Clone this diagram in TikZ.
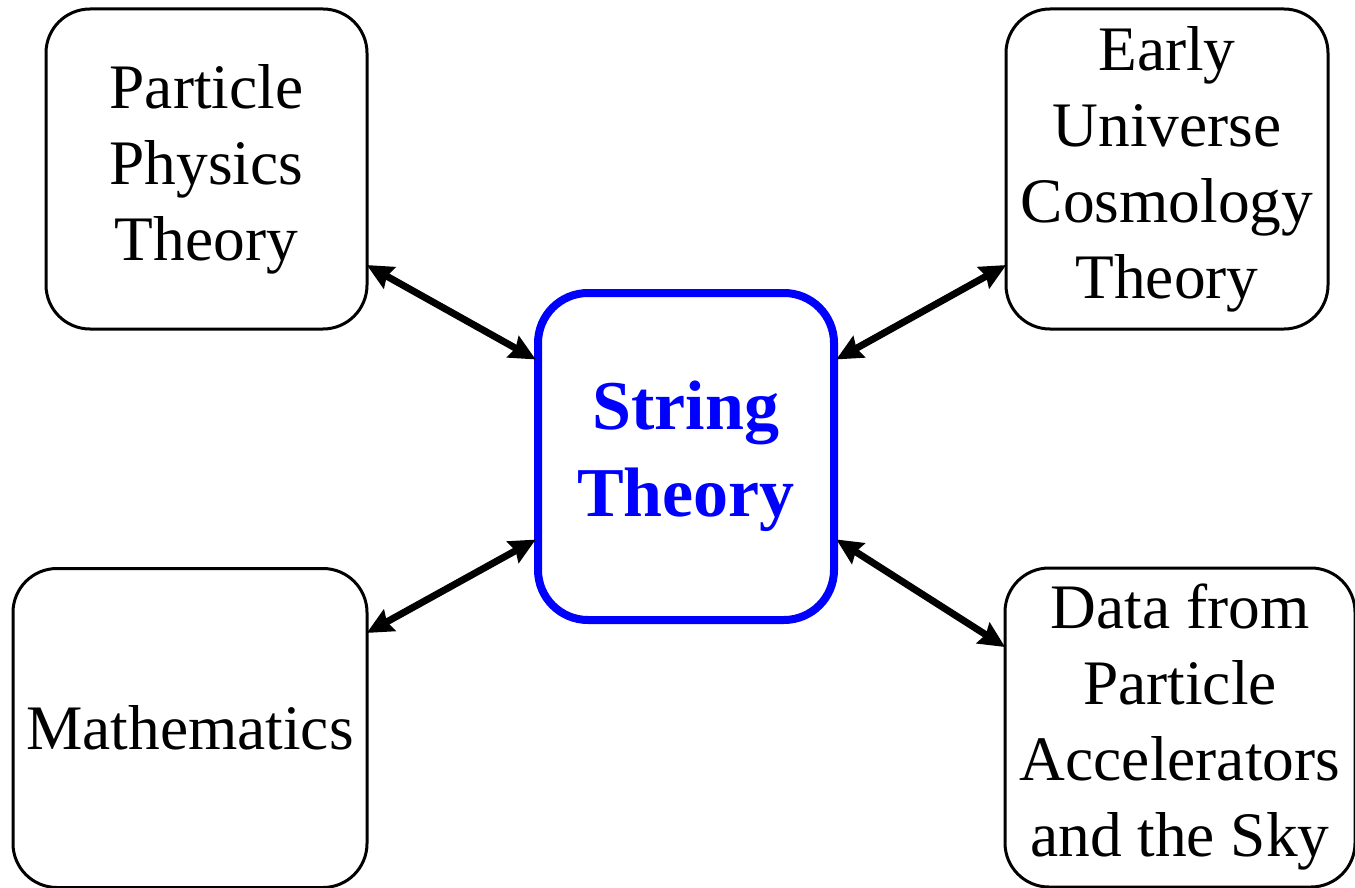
\documentclass[tikz,border=0pt]{standalone}
\usepackage{fontspec}
\setmainfont{Liberation Serif}
\definecolor{strblue}{RGB}{0,0,255}
\usetikzlibrary{arrows.meta}

\tikzset{
  field/.style={draw, line width=1.5pt, rounded corners=22pt, inner sep=0pt,
    align=center, font=\fontsize{31.7pt}{38pt}\selectfont},
  core/.style={draw=strblue, text=strblue, line width=4pt, rounded corners=25pt,
    inner sep=0pt, align=center, minimum width=148pt, minimum height=163.5pt,
    font=\bfseries\fontsize{35pt}{43.5pt}\selectfont},
  link/.style={{Stealth[length=13pt,width=12pt,inset=1.5pt]}-{Stealth[length=13pt,width=12pt,inset=1.5pt]},
    line width=3.5pt, shorten <=-1pt, shorten >=-1pt}
}

\begin{document}
\begin{tikzpicture}[x=0.5pt,y=-0.5pt]
  \useasboundingbox (0,0) rectangle (1355,888);
  %% Centre box
  \node[core] (string) at (686,456.5) {String\\Theory};
  %% Surrounding fields
  \node[field, minimum width=160.5pt, minimum height=160pt] (particle) at (206.5,169) {Particle\\Physics\\Theory};
  \node[field, minimum width=161pt, minimum height=160pt] (cosmo) at (1167,169) {Early\\Universe\\Cosmology\\Theory};
  \node[field, minimum width=177pt, minimum height=159.5pt] (math) at (190,728) {Mathematics};
  \node[field, minimum width=175pt, minimum height=159.5pt] (data) at (1180,727.5) {Data from\\Particle\\Accelerators\\and the Sky};
  %% Two-way links
  \draw[link] ([yshift=-48.5pt]particle.east) -- ([yshift=49pt]string.west);
  \draw[link] ([yshift=48pt]math.east) -- ([yshift=-42pt]string.west);
  \draw[link] ([yshift=49pt]string.east) -- ([yshift=-48.5pt]cosmo.west);
  \draw[link] ([yshift=-42pt]string.east) -- ([yshift=40.75pt]data.west);
\end{tikzpicture}
\end{document}
